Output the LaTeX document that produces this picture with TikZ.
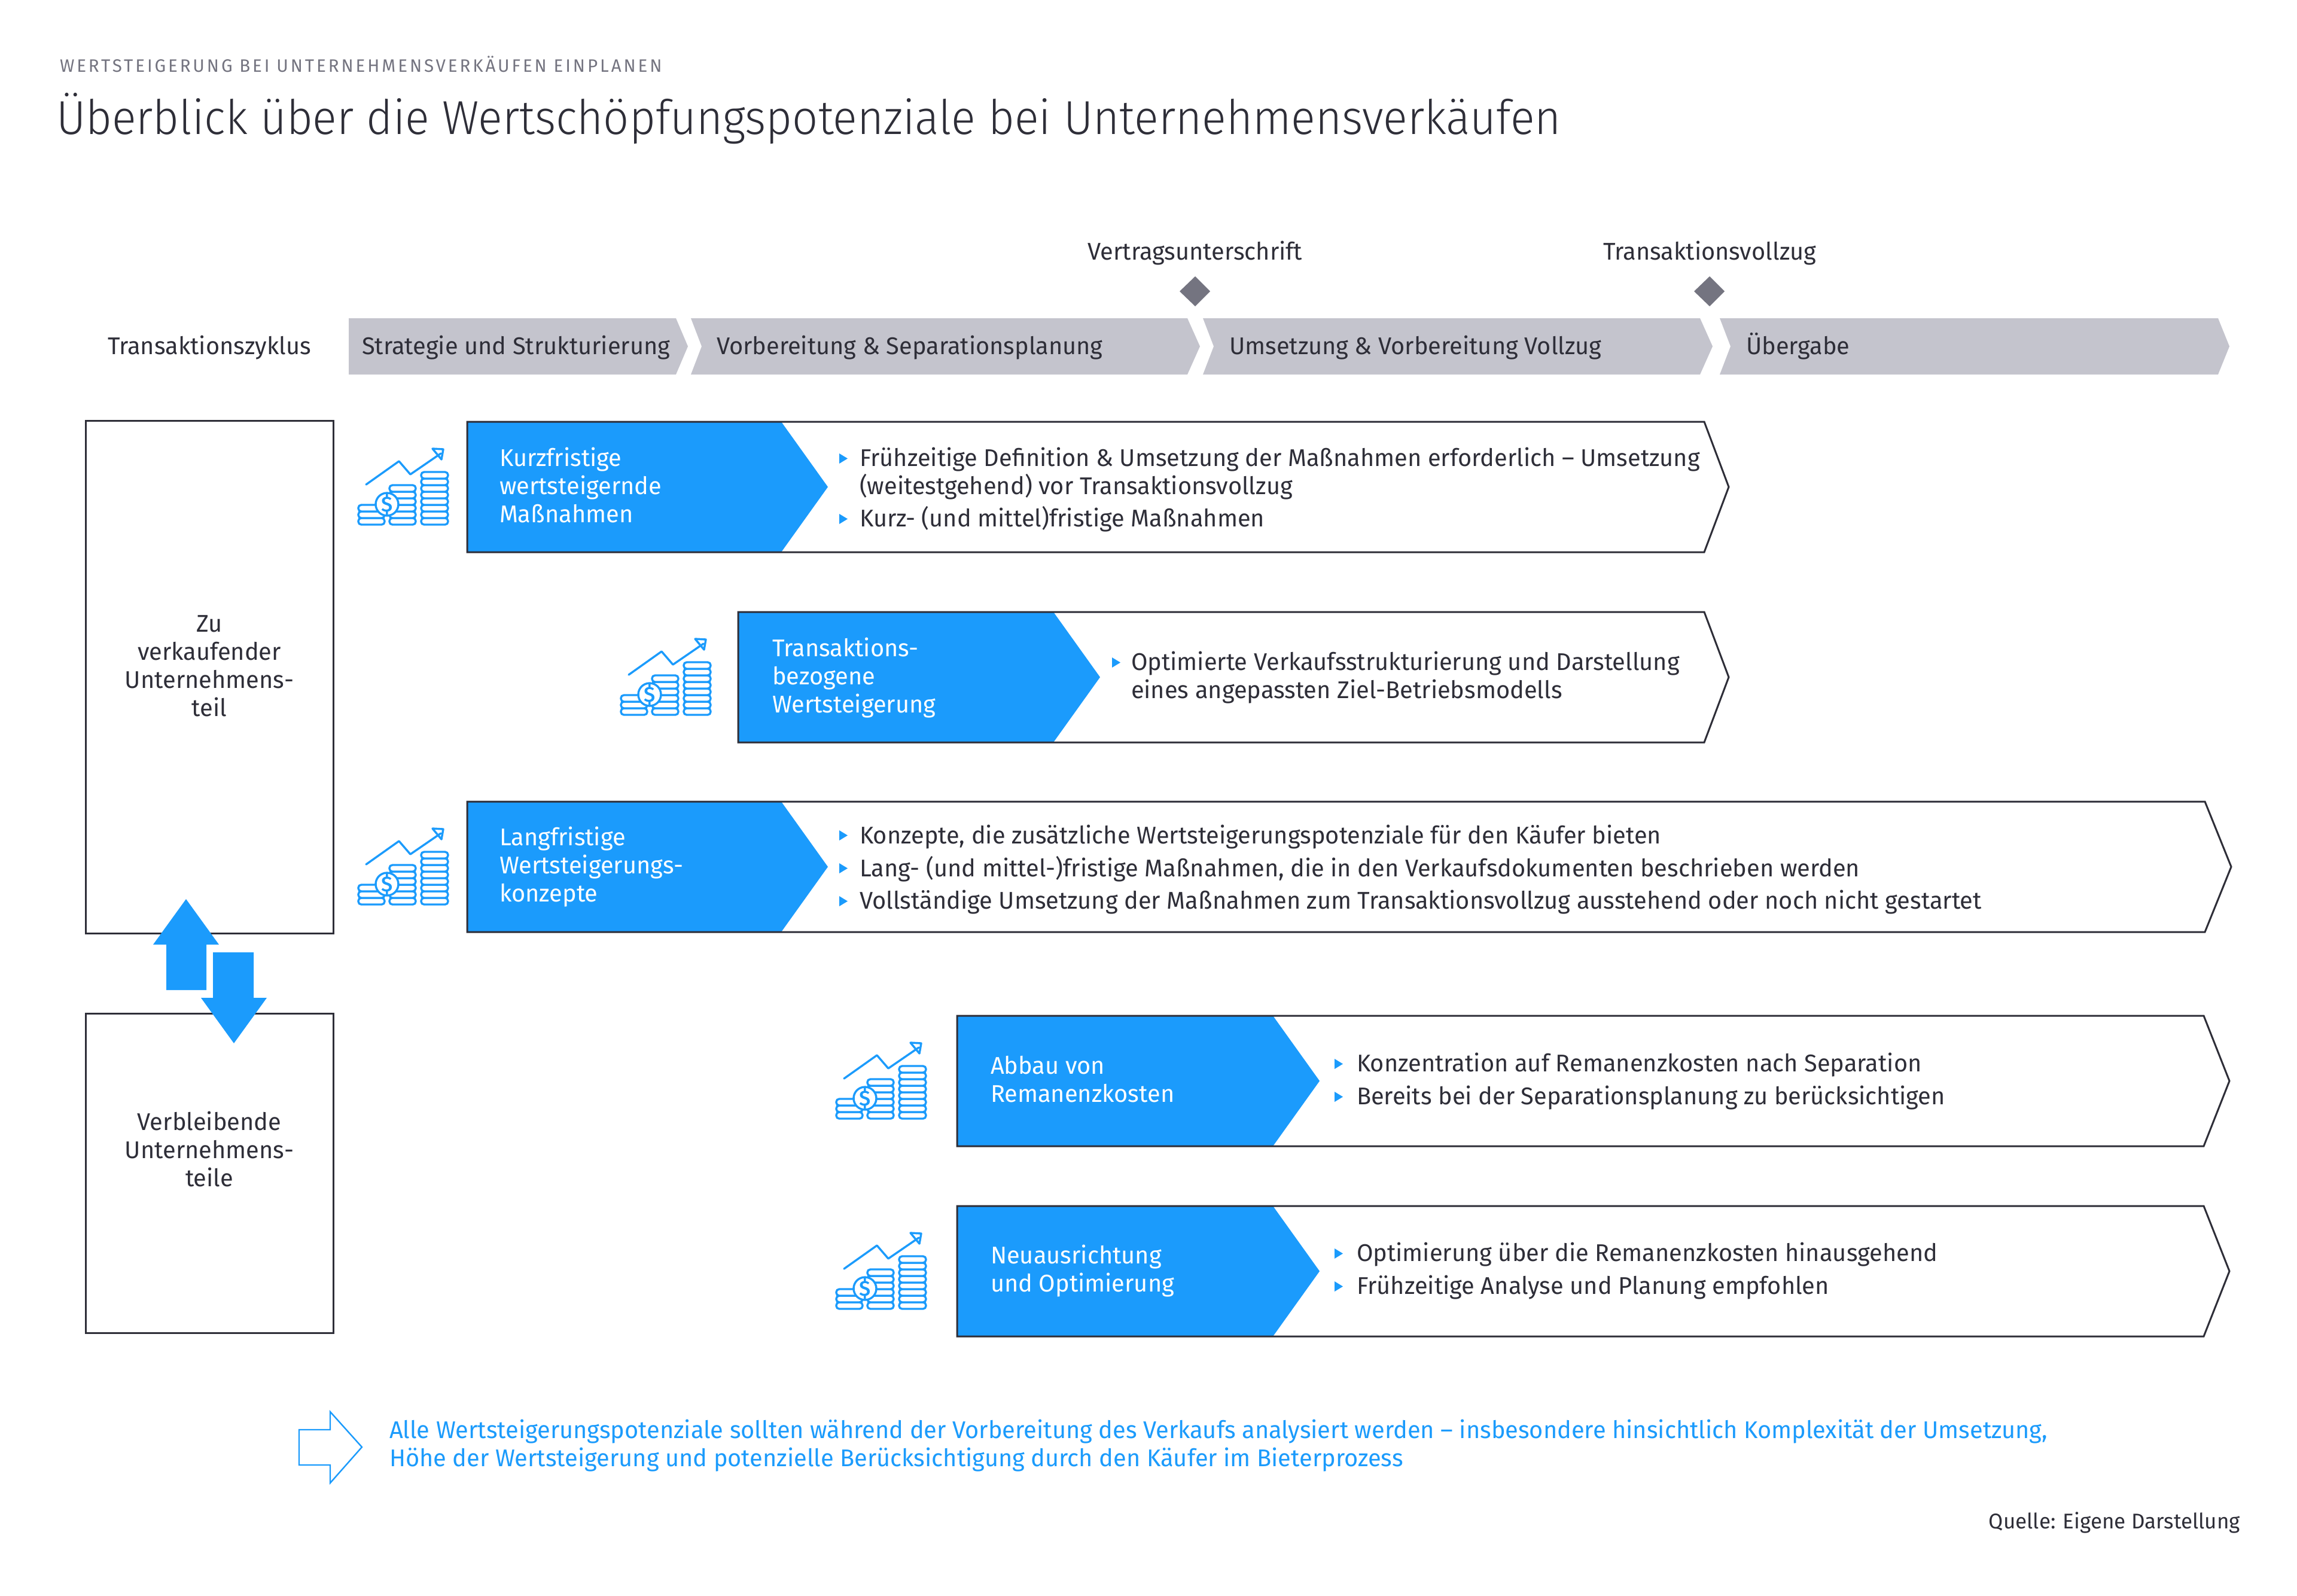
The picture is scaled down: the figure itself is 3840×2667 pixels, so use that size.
\documentclass[tikz,border=0pt]{standalone}
\usepackage{fontspec}
\setmainfont{Fira Sans}[FakeStretch=0.985,BoldFont=* Medium]
\newfontfamily\lightfont{Fira Sans Light}[FakeStretch=0.95]
\definecolor{inkdark}{HTML}{2E2E38}
\definecolor{eyblue}{HTML}{1B9BFC}
\definecolor{bargrey}{HTML}{C4C4CD}
\definecolor{midgrey}{HTML}{747480}
\tikzset{
  body/.style={inner sep=0pt,outer sep=0pt,text=inkdark,font=\fontsize{10.1}{11.75}\selectfont},
  one/.style={body,anchor=base west},
  multi/.style={body,anchor=west,align=left,execute at begin node=\strut,execute at end node=\strut},
  mid/.style={body,anchor=center,align=center,execute at begin node=\strut,execute at end node=\strut},
  onew/.style={one,text=white},
  multiw/.style={multi,text=white},
  outline/.style={draw=inkdark,line width=.75pt,line join=miter},
  solidblue/.style={fill=eyblue,draw=none},
  bar/.style={fill=bargrey,draw=none},
  milestone/.style={fill=midgrey,draw=none},
  coin/.style={draw=eyblue,fill=white,line width=.85pt,rounded corners=1.25pt},
  trend/.style={draw=eyblue,line width=.85pt,line cap=round,line join=round},
}
\newcommand{\bul}[2]{\fill[eyblue] (#1,#2-21) -- (#1+14,#2-12.5) -- (#1,#2-4) -- cycle;}
\newcommand{\coinstack}[3]{\foreach \k in {1,...,#2}{\draw[coin] (#1,877-\k*11+11) rectangle (#1+#3,877-\k*11);}}
\newcommand{\coinicon}[3]{%
  \begin{scope}[shift={(#1,#2)}]
    \coinstack{599}{3}{44}
    \coinstack{651}{6}{44}
    \coinstack{704}{8}{45}
    \draw[trend] (612,810) -- (667,771) -- (686,793) -- (737,758);
    \draw[trend] (723,750) -- (741,751) -- (738,768) -- cycle;
    \draw[coin] (647,843) circle (19);
    \node[inner sep=0pt,text=eyblue,font=\fontsize{9}{10}\selectfont\bfseries] (#3) at (647,843) {\$};
  \end{scope}}
\begin{document}
\begin{tikzpicture}[x=.25pt,y=-.25pt]
\useasboundingbox (0,0) rectangle (3840,2667);
\fill[white] (0,0) rectangle (3840,2667);

% heading
\node[one,text=midgrey,font=\fontsize{7.5}{9}\selectfont\addfontfeature{LetterSpace=13}] (kicker) at (100,120.5) {WERTSTEIGERUNG BEI UNTERNEHMENSVERKÄUFEN EINPLANEN};
\node[one,font=\fontsize{19.9}{23}\selectfont\lightfont] (title) at (94,224) {Überblick über die Wertschöpfungspotenziale bei Unternehmensverkäufen};

% milestones
\node[body,anchor=base] (sign) at (1998,434) {Vertragsunterschrift};
\node[body,anchor=base] (close) at (2858,434) {Transaktionsvollzug};
\fill[milestone] (1998,462) -- (2023,487) -- (1998,512) -- (1972,487) -- cycle;
\fill[milestone] (2858,462) -- (2883,487) -- (2858,512) -- (2832,487) -- cycle;

% phase bar
\node[body,anchor=base] (cycle) at (350,592) {Transaktionszyklus};
\fill[bar] (583,532) -- (1130,532) -- (1150,579) -- (1130,626) -- (583,626) -- cycle;
\fill[bar] (1155,532) -- (1985,532) -- (2006,579) -- (1985,626) -- (1155,626) -- (1173,579) -- cycle;
\fill[bar] (2011,532) -- (2842,532) -- (2863,579) -- (2842,626) -- (2011,626) -- (2029,579) -- cycle;
\fill[bar] (2875,532) -- (3708,532) -- (3727,579) -- (3708,626) -- (2875,626) -- (2893,579) -- cycle;
\node[one] (p1) at (605,592) {Strategie und Strukturierung};
\node[one] (p2) at (1198,592) {Vorbereitung \& Separationsplanung};
\node[one] (p3) at (2055,592) {Umsetzung \& Vorbereitung Vollzug};
\node[one] (p4) at (2919,592) {Übergabe};

% left boxes
\draw[outline] (143,703) rectangle (557,1560);
\draw[outline] (143,1694) rectangle (557,2228);
\node[mid] (sellbox) at (350,1120) {Zu\\verkaufender\\Unternehmens-\\teil};
\node[mid] (keepbox) at (350,1928) {Verbleibende\\Unternehmens-\\teile};
\fill[solidblue] (311,1503) -- (366,1579) -- (345,1579) -- (345,1655) -- (278,1655) -- (278,1579) -- (256,1579) -- cycle;
\fill[solidblue] (356,1592) -- (424,1592) -- (424,1668) -- (446,1668) -- (391,1744) -- (336,1668) -- (356,1668) -- cycle;

% row 1
\coinicon{0}{0}{d1}
\fill[solidblue] (781,705) -- (1306,705) -- (1384,814) -- (1306,923) -- (781,923) -- cycle;
\draw[outline] (781,705) -- (2849,705) -- (2890,814) -- (2849,923) -- (781,923) -- cycle;
\node[multiw] (r1) at (835,818) {Kurzfristige\\wertsteigernde\\Maßnahmen};
\bul{1403}{779}\bul{1403}{880}
\node[multi] (r1a) at (1437,794.5) {Frühzeitige Definition \& Umsetzung der Maßnahmen erforderlich – Umsetzung\\(weitestgehend) vor Transaktionsvollzug};
\node[one] (r1b) at (1437,880) {Kurz- (und mittel)fristige Maßnahmen};

% row 2
\coinicon{439}{318}{d2}
\fill[solidblue] (1234,1023) -- (1761,1023) -- (1839,1132) -- (1761,1241) -- (1234,1241) -- cycle;
\draw[outline] (1234,1023) -- (2849,1023) -- (2890,1132) -- (2849,1241) -- (1234,1241) -- cycle;
\node[multiw] (r2) at (1291,1135.5) {Transaktions-\\bezogene\\Wertsteigerung};
\bul{1859}{1120}
\node[multi] (r2a) at (1891,1135.5) {Optimierte Verkaufsstrukturierung und Darstellung\\eines angepassten Ziel-Betriebsmodells};

% row 3
\coinicon{0}{635}{d3}
\fill[solidblue] (781,1340) -- (1306,1340) -- (1384,1449) -- (1306,1558) -- (781,1558) -- cycle;
\draw[outline] (781,1340) -- (3686,1340) -- (3730,1449) -- (3686,1558) -- (781,1558) -- cycle;
\node[multiw] (r3) at (835,1452) {Langfristige\\Wertsteigerungs-\\konzepte};
\bul{1403}{1409}\bul{1403}{1464}\bul{1403}{1519}
\node[one] (r3a) at (1437,1410) {Konzepte, die zusätzliche Wertsteigerungspotenziale für den Käufer bieten};
\node[one] (r3b) at (1437,1465) {Lang- (und mittel-)fristige Maßnahmen, die in den Verkaufsdokumenten beschrieben werden};
\node[one] (r3c) at (1437,1519) {Vollständige Umsetzung der Maßnahmen zum Transaktionsvollzug ausstehend oder noch nicht gestartet};

% row 4
\coinicon{799}{993}{d4}
\fill[solidblue] (1600,1698) -- (2128,1698) -- (2206,1807) -- (2128,1916) -- (1600,1916) -- cycle;
\draw[outline] (1600,1698) -- (3684,1698) -- (3727,1807) -- (3684,1916) -- (1600,1916) -- cycle;
\node[multiw] (r4) at (1656,1810.5) {Abbau von\\Remanenzkosten};
\bul{2231}{1791}\bul{2231}{1846}
\node[one] (r4a) at (2268,1791) {Konzentration auf Remanenzkosten nach Separation};
\node[one] (r4b) at (2268,1846) {Bereits bei der Separationsplanung zu berücksichtigen};

% row 5
\coinicon{799}{1311}{d5}
\fill[solidblue] (1600,2016) -- (2128,2016) -- (2206,2125) -- (2128,2234) -- (1600,2234) -- cycle;
\draw[outline] (1600,2016) -- (3684,2016) -- (3727,2125) -- (3684,2234) -- (1600,2234) -- cycle;
\node[multiw] (r5) at (1656,2127.5) {Neuausrichtung\\und Optimierung};
\bul{2231}{2108}\bul{2231}{2163}
\node[one] (r5a) at (2268,2108) {Optimierung über die Remanenzkosten hinausgehend};
\node[one] (r5b) at (2268,2163) {Frühzeitige Analyse und Planung empfohlen};

% conclusion
\draw[eyblue,line width=.6pt,line join=miter,fill=white] (500,2390) -- (552,2390) -- (552,2360) -- (605,2419) -- (552,2479) -- (552,2449) -- (500,2449) -- cycle;
\node[multi,text=eyblue] (note) at (651,2419.5) {Alle Wertsteigerungspotenziale sollten während der Vorbereitung des Verkaufs analysiert werden – insbesondere hinsichtlich Komplexität der Umsetzung,\\Höhe der Wertsteigerung und potenzielle Berücksichtigung durch den Käufer im Bieterprozess};

\node[body,anchor=base east,font=\fontsize{8.9}{11}\selectfont] (source) at (3745,2555) {Quelle: Eigene Darstellung};
\end{tikzpicture}
\end{document}
